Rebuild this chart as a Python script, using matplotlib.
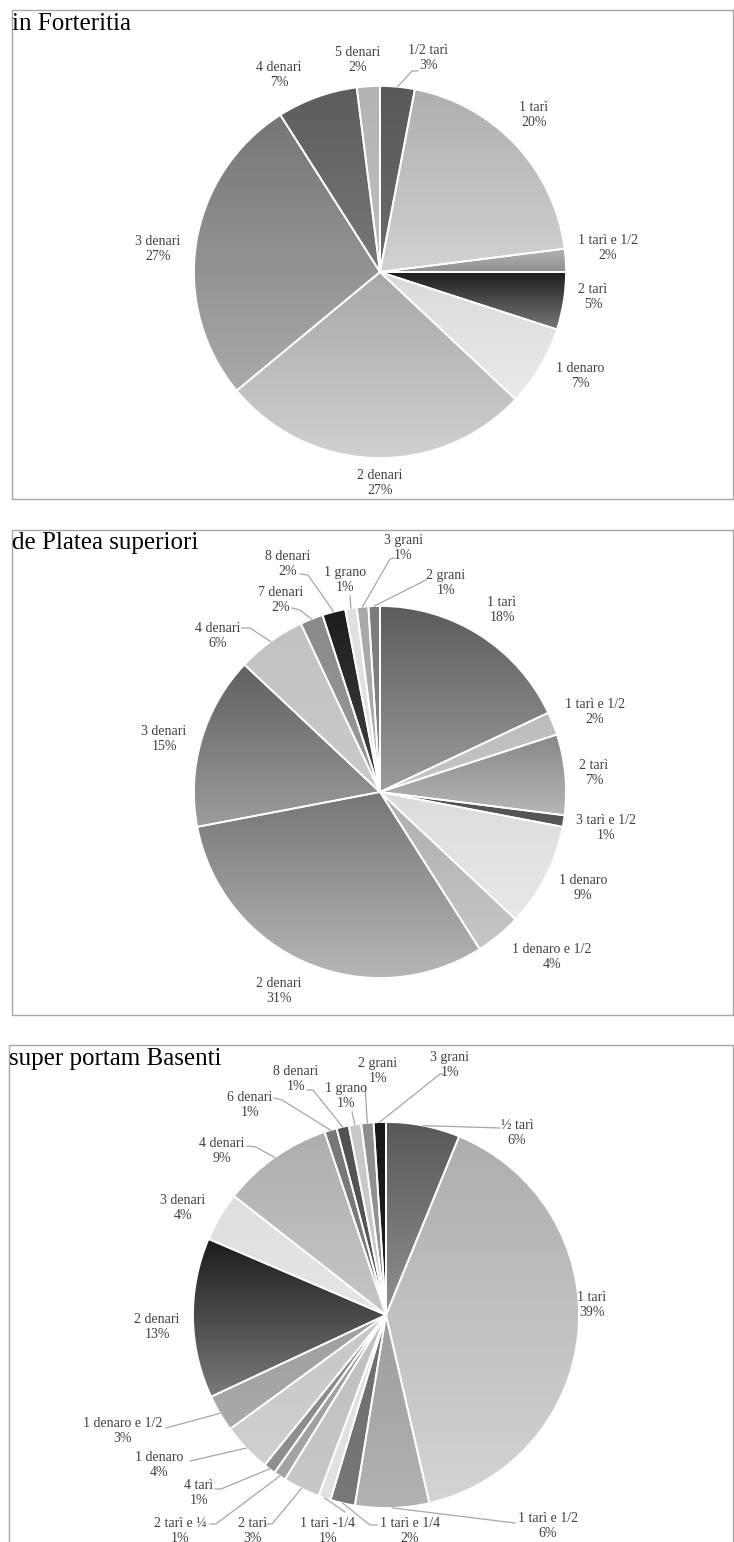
import numpy as np
import matplotlib
matplotlib.use("Agg")
import matplotlib.pyplot as plt
from matplotlib.patches import Rectangle

# ---- data -------------------------------------------------------------
forteritia_labels = ["1/2 tarì", "1 tarì", "1 tarì e 1/2", "2 tarì", "1 denaro",
                     "2 denari", "3 denari", "4 denari", "5 denari"]
forteritia_values = [3, 20, 2, 5, 7, 27, 27, 7, 2]

platea_labels = ["1 tarì", "1 tarì e 1/2", "2 tarì", "3 tarì e 1/2", "1 denaro",
                 "1 denaro e 1/2", "2 denari", "3 denari", "4 denari", "7 denari",
                 "8 denari", "1 grano", "3 grani", "2 grani"]
platea_values = [18, 2, 7, 1, 9, 4, 31, 15, 6, 2, 2, 1, 1, 1]

basenti_labels = ["½ tarì", "1 tarì", "1 tarì e 1/2", "1 tarì e 1/4", "1 tarì -1/4",
                  "2 tarì", "2 tarì e ¼", "4 tarì", "1 denaro", "1 denaro e 1/2",
                  "2 denari", "3 denari", "4 denari", "6 denari", "8 denari",
                  "1 grano", "2 grani", "3 grani"]
basenti_values = [6, 39, 6, 2, 1, 3, 1, 1, 4, 3, 13, 4, 9, 1, 1, 1, 1, 1]

# ---- styling ----------------------------------------------------------
W, H = 734, 1542
SERIF = ["Liberation Serif", "DejaVu Serif"]
TXT = "#404040"
LEAD = "#a6a6a6"

def Y(y):
    return H - y

# gradient (top, bottom) grey levels for each slice
forteritia_shades = [(0x58, 0x6c), (0xae, 0xd2), (0xb4, 0x90), (0x1c, 0x78), (0xda, 0xea),
                     (0xa8, 0xd0), (0x76, 0xaa), (0x5c, 0x78), (0xb4, 0xbe)]
platea_shades = [(0x5c, 0x9c), (0xbc, 0xc6), (0x88, 0xb6), (0x50, 0x58), (0xdc, 0xe8),
                 (0xae, 0xc6), (0x76, 0xb6), (0x60, 0x9c), (0xc2, 0xca), (0x8a, 0x9a),
                 (0x1c, 0x44), (0xe0, 0xe2), (0xa8, 0xac), (0x7c, 0x84)]
basenti_shades = [(0x58, 0x90), (0xae, 0xd4), (0x9e, 0xb2), (0x6c, 0x78), (0xe0, 0xe2),
                  (0xbe, 0xc8), (0x9e, 0xa4), (0x88, 0x90), (0xc6, 0xd0), (0x9e, 0xaa),
                  (0x1c, 0x7a), (0xde, 0xe6), (0xae, 0xc6), (0x78, 0x7c), (0x52, 0x58),
                  (0xc8, 0xcc), (0x8e, 0x94), (0x18, 0x20)]

# label centres (pixels) and optional leader-line anchor points
forteritia_text = [(428, 58), (534, 115), (608, 248), (593, 297), (580, 376),
                   (380, 483), (158, 249), (279, 75), (358, 60)]
forteritia_lead = {0: [(412, 71), (418, 71)]}

platea_text = [(502, 610), (595, 712), (594, 773), (606, 828), (583, 888),
               (552, 957), (279, 991), (164, 739), (218, 636), (281, 600),
               (288, 564), (345, 580), (403, 548), (446, 583)]
platea_lead = {8: [(250, 628), (242, 628)],
               9: [(300, 610), (292, 608)],
               10: [(308, 575), (300, 574)],
               11: [(350, 596)],
               12: [(390, 559), (394, 558)],
               13: [(426, 580)]}

basenti_text = [(517, 1133), (592, 1305), (548, 1526), (410, 1531), (328, 1531),
                (253, 1531), (180, 1531), (199, 1493), (159, 1465), (123, 1431),
                (157, 1327), (183, 1208), (222, 1151), (250, 1105), (296, 1079),
                (346, 1096), (378, 1071), (450, 1065)]
basenti_lead = {0: [(500, 1128)],
                2: [(515, 1523)],
                3: [(370, 1525), (377, 1525)],
                4: [(345, 1512)],
                5: [(272, 1524), (266, 1524)],
                6: [(216, 1524), (210, 1524)],
                7: [(221, 1489), (215, 1489)],
                8: [(190, 1461)],
                9: [(166, 1428)],
                12: [(256, 1147), (247, 1146)],
                13: [(282, 1100), (274, 1098)],
                14: [(313, 1090), (307, 1090)],
                15: [(352, 1112)],
                16: [(365, 1085)],
                17: [(440, 1074), (444, 1074)]}

panels = [
    dict(title="in Forteritia", labels=forteritia_labels, values=forteritia_values,
         shades=forteritia_shades, text=forteritia_text, lead=forteritia_lead,
         center=(380, 272), r=186, frame=(12, 10, 733, 499), title_xy=(12, 30)),
    dict(title="de Platea superiori", labels=platea_labels, values=platea_values,
         shades=platea_shades, text=platea_text, lead=platea_lead,
         center=(380, 792), r=186, frame=(12, 530, 733, 1015), title_xy=(12, 549)),
    dict(title="super portam Basenti", labels=basenti_labels, values=basenti_values,
         shades=basenti_shades, text=basenti_text, lead=basenti_lead,
         center=(386, 1315), r=193, frame=(9, 1045, 733, 1560), title_xy=(9, 1065)),
]

fig = plt.figure(figsize=(W / 100, H / 100), dpi=100)
ax = fig.add_axes([0, 0, 1, 1])
ax.set_xlim(0, W)
ax.set_ylim(0, H)
ax.axis("off")

for p in panels:
    x0, y0, x1, y1 = p["frame"]
    ax.add_patch(Rectangle((x0, Y(y1)), x1 - x0, y1 - y0, fill=False,
                           edgecolor="#a8a8a8", lw=1.0, zorder=1, clip_on=False))
    ax.text(p["title_xy"][0], Y(p["title_xy"][1]), p["title"], family=SERIF,
            fontsize=18, color="black", ha="left", va="baseline", zorder=6)

    cx, cy = p["center"]
    wedges, _ = ax.pie(p["values"], center=(cx, Y(cy)), radius=p["r"],
                       startangle=90, counterclock=False,
                       wedgeprops=dict(facecolor="none", edgecolor="white",
                                       linewidth=1.3, zorder=4),
                       frame=True)
    for w, (top, bot) in zip(wedges, p["shades"]):
        ext = w.get_path().get_extents()
        g = np.linspace(top, bot, 128) / 255.0
        img = np.repeat(g[:, None, None], 3, axis=2)
        im = ax.imshow(img, extent=(ext.x0, ext.x1, ext.y0, ext.y1), origin="upper",
                       aspect="auto", interpolation="bilinear", zorder=2)
        im.set_clip_path(w)

    for i, (w, lab, v) in enumerate(zip(wedges, p["labels"], p["values"])):
        tx, ty = p["text"][i]
        ax.text(tx, Y(ty), f"{lab}\n{v}%", family=SERIF, fontsize=10, color=TXT,
                ha="center", va="center", linespacing=1.2, zorder=6)
        if i in p["lead"]:
            mid = np.deg2rad((w.theta1 + w.theta2) / 2)
            sx = cx + p["r"] * np.cos(mid)
            sy = Y(cy) + p["r"] * np.sin(mid)
            xs = [sx] + [q[0] for q in p["lead"][i]]
            ys = [sy] + [Y(q[1]) for q in p["lead"][i]]
            ax.plot(xs, ys, color=LEAD, lw=0.9, zorder=5)

ax.set_xlim(0, W)
ax.set_ylim(0, H)
ax.set_aspect("auto")
ax.axis("off")
fig.savefig("out.png", dpi=100)
